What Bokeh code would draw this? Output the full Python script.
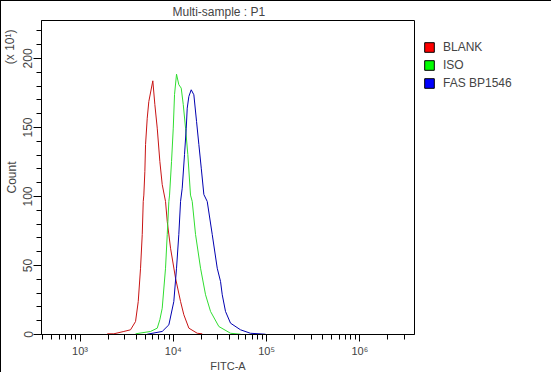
from bokeh.plotting import figure
from bokeh.models import Range1d, FixedTicker, Legend, LegendItem, Title
from bokeh.embed import file_html
from bokeh.resources import INLINE

# ---------------- data ----------------
series_names = ["BLANK", "ISO", "FAS BP1546"]

blank_fitc = [1957, 2301, 2945, 3475, 3933, 4205, 4450, 4641, 4757, 4828, 4950, 5036, 5248, 5460,
              6026, 6334, 6720, 7169, 7598, 8245, 8603, 9336, 10560, 11950, 12960, 14670, 18040, 20420]
blank_count = [0.5, 0.5, 2.2, 3.4, 9.4, 23.9, 48, 72.5, 96.4, 101, 118, 137.7, 156.7, 168.8,
               183.8, 166.7, 149.5, 125.4, 108.7, 96.4, 81.9, 62.5, 40.8, 23.9, 14.3, 4.6, 0.9, 0.5]

iso_fitc = [3933, 5700, 6720, 7169, 7598, 8245, 8603, 8954, 9108, 9565, 9979, 10300, 10820, 11450,
            12150, 12770, 13520, 14300, 15280, 15940, 17300, 19580, 22140, 25050, 30740, 41030, 52520]
iso_count = [0.5, 2.2, 4.6, 10.7, 19, 48, 72.5, 96.4, 101, 125.4, 149.5, 173.9, 188.6, 181,
             178.5, 166.7, 149.5, 130.4, 101, 96.4, 72.5, 48, 28.8, 16.7, 5.8, 0.9, 0.2]

fas_fitc = [5248, 7598, 8954, 10120, 10820, 11450, 11950, 12450, 13180, 13750, 14090, 14670, 15550,
            16590, 17740, 18770, 19920, 21250, 23080, 26120, 29560, 32070, 33440, 36250, 41030,
            52520, 67030, 97300]
fas_count = [0.2, 2.2, 7, 23.9, 48, 72.5, 96.4, 106, 130.4, 149.5, 164, 172.5, 177.3,
             173.7, 154.3, 137.7, 120.5, 101.4, 96.4, 72.5, 48, 38.4, 28.8, 16.7, 8.2,
             3.4, 0.9, 0.2]

line_colors = ["#c81414", "#30dd30", "#0000b0"]
legend_colors = ["#ff0000", "#00ff00", "#0000ff"]

x_tick_values = [1e3, 1e4, 1e5, 1e6]
x_tick_labels = ["10³", "10⁴", "10⁵", "10⁶"]
x_minor_values = [m * 10 ** k for k in range(2, 7) for m in range(2, 10)]
y_tick_values = [0, 50, 100, 150, 200]
y_minor_values = list(range(10, 230, 10))
y_multiplier_label = "(x 10¹)"

FONT = "Liberation Sans"
NAN = float("nan")

# ---------------- figure ----------------
p = figure(frame_width=373, frame_height=314, x_axis_type="log",
           x_range=Range1d(386, 3.85e6), y_range=Range1d(0, 227.5),
           output_backend="svg", toolbar_location=None,
           min_border_left=40, min_border_right=136, min_border_top=18, min_border_bottom=38,
           background_fill_color="white", border_fill_color="white")
p.styles = {"border": "1px solid black"}

p.title.text = "Multi-sample : P1"
p.title.align = "left"
p.title.offset = 131
p.title.text_font = FONT
p.title.text_font_size = "12px"
p.title.text_font_style = "normal"
p.title.standoff = 3

p.outline_line_color = "black"
p.outline_line_width = 1
p.xgrid.visible = False
p.ygrid.visible = False

# x axis
xa = p.xaxis[0]
xa.ticker = FixedTicker(ticks=x_tick_values, minor_ticks=x_minor_values)
xa.major_label_overrides = {float(v): l for v, l in zip(x_tick_values, x_tick_labels)}
xa.axis_label = "FITC-A"
xa.axis_label_text_font = FONT
xa.axis_label_text_font_size = "11px"
xa.axis_label_text_font_style = "normal"
xa.axis_label_standoff = 0
xa.major_label_text_font = FONT
xa.major_label_text_font_size = "11px"
xa.major_label_standoff = 3
xa.major_tick_in = 0
xa.major_tick_out = 7
xa.minor_tick_in = 0
xa.minor_tick_out = 5
xa.axis_line_color = "black"

# y axis
ya = p.yaxis[0]
ya.ticker = FixedTicker(ticks=y_tick_values, minor_ticks=y_minor_values)
ya.axis_label = "Count"
ya.axis_label_text_font = FONT
ya.axis_label_text_font_size = "12px"
ya.axis_label_text_font_style = "normal"
ya.axis_label_standoff = 2
ya.major_label_text_font = FONT
ya.major_label_text_font_size = "12px"
ya.major_label_orientation = "vertical"
ya.major_label_standoff = 1
ya.major_tick_in = 0
ya.major_tick_out = 8
ya.minor_tick_in = 0
ya.minor_tick_out = 5
ya.axis_line_color = "black"

# scale multiplier text at the top end of the count axis
mult = Title(text=y_multiplier_label, align="right", vertical_align="bottom", standoff=-30, offset=9,
             text_font=FONT, text_font_size="12px", text_font_style="normal")
p.add_layout(mult, "left")

# histograms
xs = [blank_fitc, iso_fitc, fas_fitc]
ys = [blank_count, iso_count, fas_count]
for xv, yv, c in zip(xs, ys, line_colors):
    p.line(x=xv, y=yv, line_color=c, line_width=1)

# legend swatches (renderers without visible marks, only used for the legend)
items = []
for name, c in zip(series_names, legend_colors):
    r = p.quad(left=[NAN], right=[NAN], top=[NAN], bottom=[NAN],
               fill_color=c, line_color="black", line_width=1)
    items.append(LegendItem(label=name, renderers=[r]))

legend = Legend(items=items, location="top_left", padding=0, margin=9,
                title=" ", title_text_font_size="8px", title_standoff=2,
                glyph_width=12, glyph_height=12, label_height=14, label_standoff=8, spacing=4,
                label_text_font=FONT, label_text_font_size="12px",
                border_line_color=None, background_fill_alpha=0)
p.add_layout(legend, "right")

open("out.html", "w").write(file_html(p, INLINE))
